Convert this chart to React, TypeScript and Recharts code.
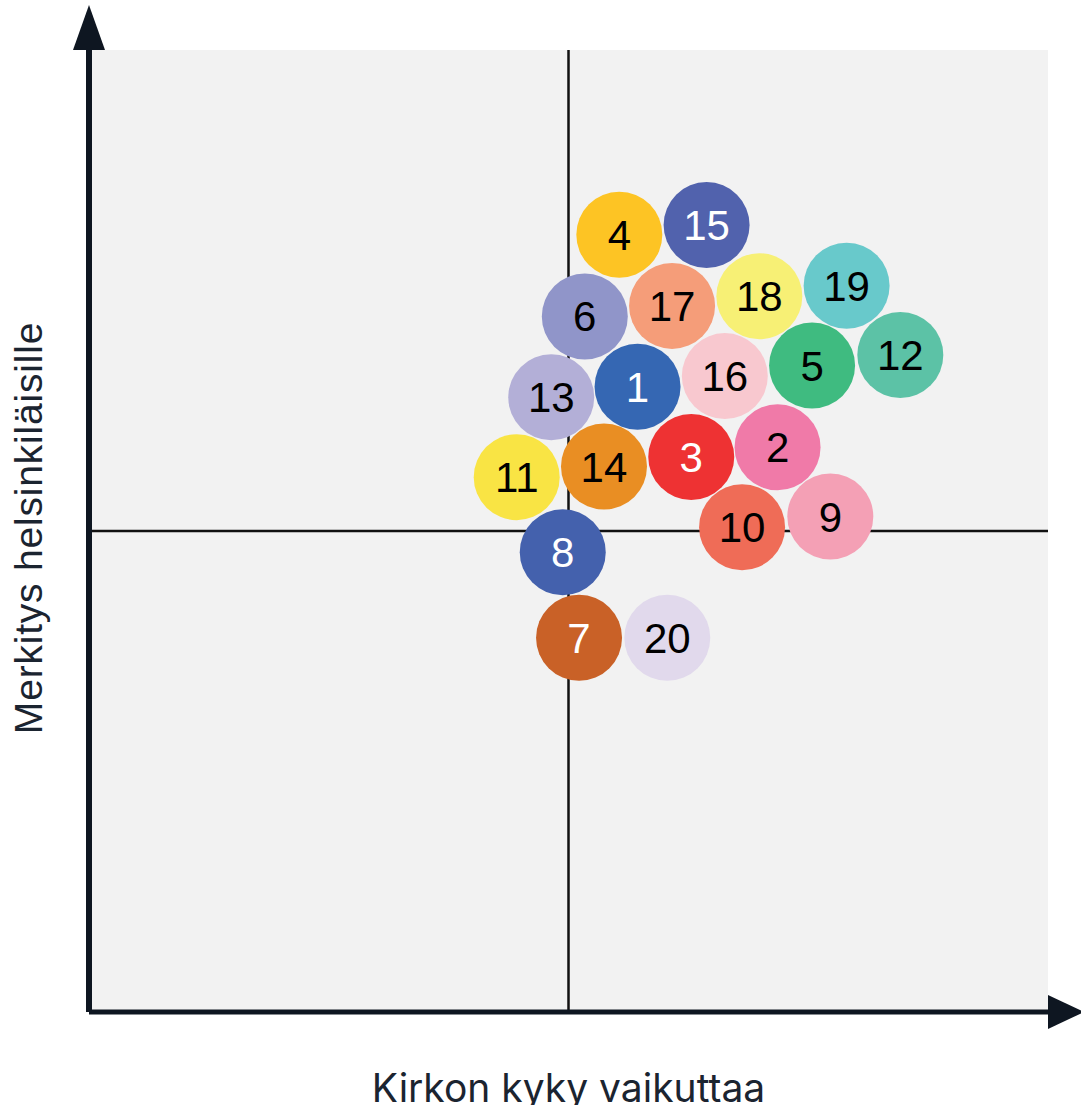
import React from 'react';
import {
  ScatterChart,
  Scatter,
  XAxis,
  YAxis,
  ReferenceLine,
  ReferenceArea,
  ReferenceDot,
} from 'recharts';

const ids = [1, 2, 3, 4, 5, 6, 7, 8, 9, 10, 11, 12, 13, 14, 15, 16, 17, 18, 19, 20];
const xValues = [57.2, 71.8, 62.8, 55.3, 75.4, 51.7, 51.1, 49.4, 77.3, 68.1, 44.6, 84.6, 48.2, 53.7, 64.4, 66.3, 60.8, 69.9, 79.0, 60.3];
const yValues = [65.0, 58.7, 57.7, 80.8, 67.2, 72.3, 38.9, 47.8, 51.5, 50.4, 55.6, 68.3, 63.9, 56.7, 81.8, 66.1, 73.4, 74.4, 75.5, 38.9];
const colors = [
  '#3567b3', '#f07aa8', '#ee3233', '#fdc424', '#3fbb80',
  '#9095c9', '#c96127', '#4461ad', '#f4a0b5', '#ef6c57',
  '#f9e444', '#5cc2a6', '#b3afd7', '#e98e23', '#5162ad',
  '#f8c8cf', '#f59d79', '#f7f075', '#68c9cb', '#e1d9ec',
];
const textColors = [
  '#ffffff', '#000000', '#ffffff', '#000000', '#000000',
  '#000000', '#ffffff', '#ffffff', '#000000', '#000000',
  '#000000', '#000000', '#000000', '#000000', '#ffffff',
  '#000000', '#000000', '#000000', '#000000', '#000000',
];
const xLabel = 'Kirkon kyky vaikuttaa';
const yLabel = 'Merkitys helsinkiläisille';
const domainMin = 0;
const domainMax = 100;
const midValue = 50;

const data = ids.map((id, i) => ({
  id,
  x: xValues[i],
  y: yValues[i],
  color: colors[i],
  textColor: textColors[i],
}));

const AXIS_COLOR = '#0e1621';
const BUBBLE_R = 43;

const Bubble = (props: any) => {
  const { cx, cy, payload } = props;
  if (cx == null || cy == null) return null;
  return (
    <g>
      <circle cx={cx} cy={cy} r={BUBBLE_R} fill={payload.color} />
      <text
        x={cx}
        y={cy + 15}
        textAnchor="middle"
        fill={payload.textColor}
        fontFamily="'Liberation Sans', Arial, sans-serif"
        fontSize={42}
      >
        {payload.id}
      </text>
    </g>
  );
};

const UpArrow = (props: any) => {
  const { cx, cy } = props;
  return (
    <polygon
      points={`${cx},${cy - 45} ${cx - 16},${cy} ${cx + 16},${cy}`}
      fill={AXIS_COLOR}
    />
  );
};

const RightArrow = (props: any) => {
  const { cx, cy } = props;
  return (
    <polygon
      points={`${cx + 36},${cy} ${cx},${cy - 17} ${cx},${cy + 17}`}
      fill={AXIS_COLOR}
    />
  );
};

const XLabelContent = (props: any) => {
  const vb = props.viewBox || {};
  return (
    <text
      x={vb.x + vb.width / 2}
      y={vb.y + vb.height - 3}
      textAnchor="middle"
      fill="#1b2430"
      fontFamily="Inter, 'Open Sans', sans-serif"
      fontSize={39}
    >
      {xLabel}
    </text>
  );
};

const YLabelContent = (props: any) => {
  const vb = props.viewBox || {};
  const cx = 42;
  const cy = vb.y + vb.height / 2 - 3;
  return (
    <text
      x={cx}
      y={cy}
      transform={`rotate(-90, ${cx}, ${cy})`}
      textAnchor="middle"
      fill="#1b2430"
      fontFamily="'Liberation Sans', Arial, sans-serif"
      fontSize={39}
      letterSpacing={0.8}
    >
      {yLabel}
    </text>
  );
};

export default function App() {
  return (
    <div style={{ position: 'absolute', left: 0, top: 0, width: 1081, height: 1105, background: '#ffffff' }}>
      <ScatterChart
        width={1081}
        height={1105}
        margin={{ top: 50, right: 33, bottom: 0, left: 0 }}
      >
        <XAxis
          type="number"
          dataKey="x"
          domain={[domainMin, domainMax]}
          tick={false}
          tickLine={false}
          height={93}
          axisLine={{ stroke: AXIS_COLOR, strokeWidth: 5 }}
          label={{ content: XLabelContent }}
        />
        <YAxis
          type="number"
          dataKey="y"
          domain={[domainMin, domainMax]}
          tick={false}
          tickLine={false}
          width={89}
          axisLine={{ stroke: AXIS_COLOR, strokeWidth: 6 }}
          label={{ content: YLabelContent }}
        />
        <ReferenceArea
          x1={domainMin}
          x2={domainMax}
          y1={domainMin}
          y2={domainMax}
          fill="#f2f2f2"
          fillOpacity={1}
          stroke="none"
        />
        <ReferenceLine x={midValue} stroke="#111111" strokeWidth={2.5} />
        <ReferenceLine y={midValue} stroke="#111111" strokeWidth={2.5} />
        <ReferenceDot x={domainMin} y={domainMax} r={1} shape={UpArrow} />
        <ReferenceDot x={domainMax} y={domainMin} r={1} shape={RightArrow} />
        <Scatter data={data} isAnimationActive={false} shape={Bubble} />
      </ScatterChart>
    </div>
  );
}
